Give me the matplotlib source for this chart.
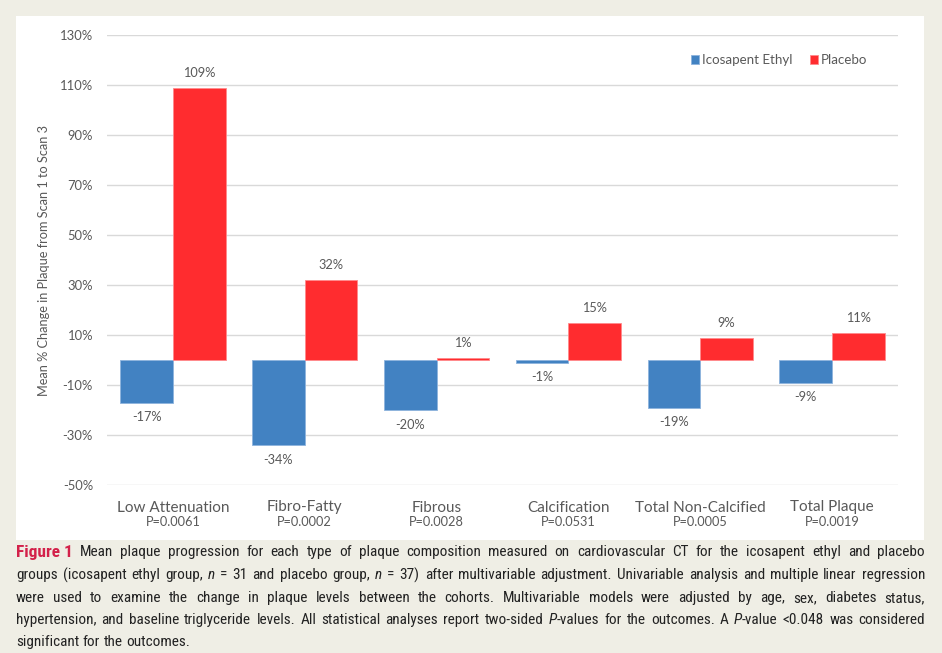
import matplotlib
matplotlib.use("Agg")
import matplotlib.pyplot as plt
import numpy as np
from matplotlib import font_manager
from matplotlib.patches import Rectangle

categories = ["Low Attenuation", "Fibro-Fatty", "Fibrous", "Calcification",
              "Total Non-Calcified", "Total Plaque"]
p_values = ["P=0.0061", "P=0.0002", "P=0.0028", "P=0.0531", "P=0.0005", "P=0.0019"]
icosapent = [-17, -34, -20, -1, -19, -9]
placebo = [109, 32, 1, 15, 9, 11]
y_ticks = [-50, -30, -10, 10, 30, 50, 70, 90, 110, 130]

# caption lines; *...* marks italic
caption_lines = [
    "Mean plaque progression for each type of plaque composition measured on cardiovascular CT for the icosapent ethyl and placebo",
    "groups (icosapent ethyl group, *n* = 31 and placebo group, *n* = 37) after multivariable adjustment. Univariable analysis and multiple linear regression",
    "were used to examine the change in plaque levels between the cohorts. Multivariable models were adjusted by age, sex, diabetes status,",
    "hypertension, and baseline triglyceride levels. All statistical analyses report two-sided *P*-values for the outcomes. A *P*-value <0.048 was considered",
    "significant for the outcomes.",
]

BLUE = "#4282C2"
RED = "#FF2C2F"
GREY = "#595959"
BEIGE = "#EFEEE5"

names = {f.name for f in font_manager.fontManager.ttflist}
chart_font = "Lato" if "Lato" in names else "DejaVu Sans"
cap_font = "Roboto"
for cand in ["Liberation Sans Narrow", "Roboto Condensed", "Open Sans Condensed", "Roboto"]:
    if cand in names:
        cap_font = cand
        break

fig = plt.figure(figsize=(9.42, 6.53), dpi=100, facecolor=BEIGE)
fig.patches.append(Rectangle((16 / 942, 1 - 540 / 653), 908 / 942, 524 / 653,
                             transform=fig.transFigure, facecolor="white",
                             edgecolor="none", zorder=-5))

ax = fig.add_axes([107 / 942, 1 - 485 / 653, 791 / 942, 450 / 653])
ax.set_facecolor("none")
x = np.arange(len(categories))
w = 0.4
b1 = ax.bar(x - w / 2, icosapent, w, color=BLUE, edgecolor="#8DB3DD", linewidth=0.6,
            label="Icosapent Ethyl", zorder=3)
b2 = ax.bar(x + w / 2, placebo, w, color=RED, edgecolor="#FF8A8C", linewidth=0.6,
            label="Placebo", zorder=3)

for xi, v in zip(x - w / 2, icosapent):
    ax.annotate(f"{v}%", (xi, v), xytext=(0, -10.5), textcoords="offset points",
                ha="center", va="center", fontsize=9.2, color=GREY, family=chart_font)
for xi, v in zip(x + w / 2, placebo):
    ax.annotate(f"{v}%", (xi, v), xytext=(0, 10.5), textcoords="offset points",
                ha="center", va="center", fontsize=9.2, color=GREY, family=chart_font)

ax.set_xlim(-0.5, len(categories) - 0.5)
ax.set_ylim(-50, 130)
ax.set_yticks(y_ticks)
ax.set_yticklabels([f"{t}%" for t in y_ticks], fontsize=9.4, color=GREY, family=chart_font)
ax.yaxis.grid(True, color="#D9D9D9", linewidth=1.0, zorder=0)
ax.tick_params(axis="y", length=0, pad=10)
ax.tick_params(axis="x", length=0)
ax.set_xticks(x)
ax.set_xticklabels([])
for s in ax.spines.values():
    s.set_visible(False)

for xi, cat in zip(x, categories):
    ax.text(xi, -59, cat, ha="center", va="center", fontsize=11, color=GREY,
            family=chart_font, clip_on=False)
for xi, p in zip(x, p_values):
    ax.text(xi, -64.8, p, ha="center", va="center", fontsize=9.2, color=GREY,
            family=chart_font, clip_on=False)

ax.set_ylabel("Mean % Change in Plaque from Scan 1 to Scan 3", fontsize=9.2,
              color=GREY, family=chart_font)
ax.yaxis.set_label_coords(-57 / 791, 0.5)

leg = fig.legend(handles=[b1, b2], loc="center", bbox_to_anchor=(779 / 942, 1 - 60 / 653),
                 ncol=2, frameon=False, handlelength=0.6, handleheight=0.6,
                 handletextpad=0.2, columnspacing=1.3,
                 prop={"family": chart_font, "size": 9.6})
for t in leg.get_texts():
    t.set_color(GREY)

# justified caption
fig.canvas.draw()
r = fig.canvas.get_renderer()
left, right = 16, 925
line_y = [552, 575, 598, 620, 642]


def parse(word):
    segs = []
    for k, part in enumerate(word.split("*")):
        if part:
            segs.append((part, k % 2 == 1))
    return segs


def width(txt, **kw):
    t = fig.text(0, 0, txt, **kw)
    wd = t.get_window_extent(r).width
    t.remove()
    return wd


def layout(size):
    out = []
    for li, line in enumerate(caption_lines):
        words = []
        if li == 0:
            words.append([("Figure 1", "fig")])
        words += [parse(wd) for wd in line.split(" ")]
        wlist = []
        for word in words:
            ws = []
            for txt, st in word:
                if st == "fig":
                    kw = dict(family=cap_font, size=size + 1.5, weight="bold", color="#D3214A")
                else:
                    kw = dict(family=cap_font, size=size,
                              style="italic" if st else "normal", color="#222222")
                ws.append((txt, kw, width(txt, **kw)))
            wlist.append(ws)
        out.append(wlist)
    return out


cap_size = 11.0
while True:
    lines = layout(cap_size)
    space = width("a a", family=cap_font, size=cap_size) - 2 * width("a", family=cap_font, size=cap_size)
    fits = all(sum(s[2] for ws in wl for s in ws) + 0.7 * space * (len(wl) - 1) <= right - left
               for wl in lines)
    if fits or cap_size < 7:
        break
    cap_size -= 0.25

for li, (wlist, yy) in enumerate(zip(lines, line_y)):
    total = sum(s[2] for ws in wlist for s in ws)
    if li < len(lines) - 1:
        gap = (right - left - total) / (len(wlist) - 1)
    else:
        gap = space
    xpos = left
    for ws in wlist:
        for txt, kw, wd in ws:
            fig.text(xpos / 942, 1 - yy / 653, txt, ha="left", va="center", **kw)
            xpos += wd
        xpos += gap

fig.savefig("out.png", dpi=100, facecolor=BEIGE)
